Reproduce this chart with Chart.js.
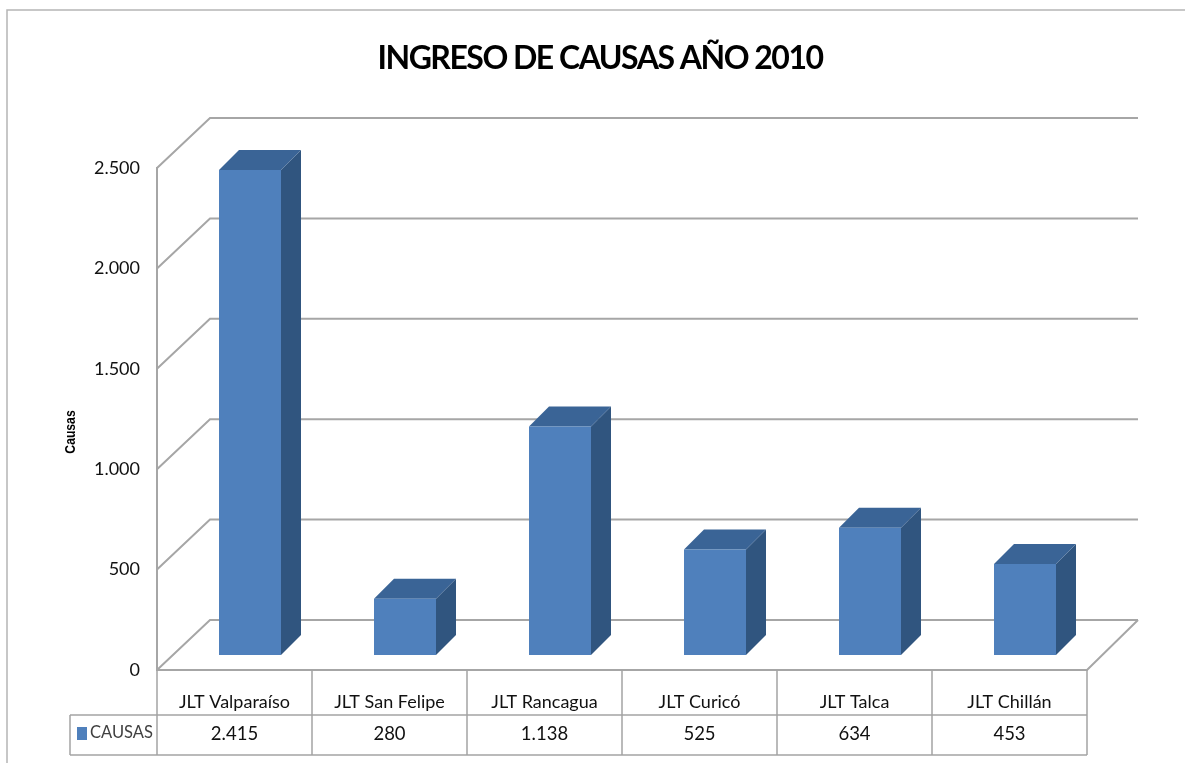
<!DOCTYPE html>
<html><head><meta charset="utf-8">
<style>html,body{margin:0;padding:0;background:#fff}#w{position:relative;width:1185px;height:763px;overflow:hidden}canvas{display:block}</style>
<script src="https://cdn.jsdelivr.net/npm/chart.js@4"></script>
</head><body><div id="w"><canvas id="c" width="1185" height="763"></canvas></div>
<script>
const categories = ['JLT Valparaíso','JLT San Felipe','JLT Rancagua','JLT Curicó','JLT Talca','JLT Chillán'];
const causas = [2415,280,1138,525,634,453];
const seriesName = 'CAUSAS';
const chartTitle = 'INGRESO DE CAUSAS AÑO 2010';
const yAxisTitle = 'Causas';

const FONT = 'Lato,"Liberation Sans",sans-serif';
const fmt = v => String(v).replace(/\B(?=(\d{3})+$)/g,'.');
const GRID = '#a6a6a6', TBL = '#a3a3a3', TXT = '#111111';
const FRONT = '#4f80bc', TOP = '#3a6496', SIDE = '#30557f';
const DEPTH = {x:53,y:50}, BAR = {dx:15.5,dy:-15,sx:20,sy:-20};

function line(ctx,pts,color,w){ctx.beginPath();pts.forEach((p,i)=>i?ctx.lineTo(p[0],p[1]):ctx.moveTo(p[0],p[1]));ctx.strokeStyle=color;ctx.lineWidth=w;ctx.stroke();}
function poly(ctx,pts,color){ctx.beginPath();pts.forEach((p,i)=>i?ctx.lineTo(p[0],p[1]):ctx.moveTo(p[0],p[1]));ctx.closePath();ctx.fillStyle=color;ctx.fill();}

const scene = {
  id:'scene',
  beforeDraw(chart){
    const {ctx,width,height}=chart;
    line(ctx,[[7,height],[7,10],[width,10]],'#b5b5b5',1.5);
    const tb=chart.titleBlock;
    if(tb && !tb._condensed){
      const orig=tb.draw;
      tb.draw=function(){ctx.save();ctx.letterSpacing='-1.5px';orig.call(this);ctx.restore();};
      tb._condensed=true;
    }
  },
  beforeDatasetsDraw(chart){
    const {ctx,chartArea:a,scales:{y}}=chart;
    y.ticks.forEach(t=>{
      const py=y.getPixelForValue(t.value);
      line(ctx,[[a.left,py],[a.left+DEPTH.x,py-DEPTH.y],[a.right+DEPTH.x-2,py-DEPTH.y]],GRID,2);
    });
    const y0=y.getPixelForValue(0);
    line(ctx,[[a.left,y0],[a.right,y0],[a.right+DEPTH.x-2,y0-DEPTH.y]],GRID,2);
    ctx.save();
    ctx.translate(BAR.dx,BAR.dy);
    chart.getDatasetMeta(0).data.forEach(b=>{
      const l=b.x-b.width/2,r=b.x+b.width/2,t=b.y,bt=b.base;
      poly(ctx,[[r,t],[r+BAR.sx,t+BAR.sy],[r+BAR.sx,bt+BAR.sy],[r,bt]],SIDE);
      poly(ctx,[[l,t],[l+BAR.sx,t+BAR.sy],[r+BAR.sx,t+BAR.sy],[r,t]],TOP);
    });
  },
  afterDatasetsDraw(chart){ chart.ctx.restore(); },
  afterDraw(chart){
    const {ctx,chartArea:a,scales:{x}}=chart;
    const rowTop=a.bottom,rowMid=715,rowBot=755,legL=70;
    const step=x.getPixelForValue(1)-x.getPixelForValue(0);
    const edges=categories.map((_,i)=>x.getPixelForValue(i)-step/2).concat([a.right]);
    edges.forEach(e=>line(ctx,[[e,rowTop],[e,rowBot]],TBL,1.5));
    line(ctx,[[legL,rowMid],[a.right,rowMid]],TBL,1.5);
    line(ctx,[[legL,rowBot],[a.right,rowBot]],TBL,1.5);
    line(ctx,[[legL,rowMid],[legL,rowBot]],TBL,1.5);
    ctx.fillStyle=FRONT;ctx.fillRect(77,727,10,13);
    ctx.textBaseline='middle';
    ctx.fillStyle='#404040';ctx.textAlign='left';ctx.font='16.5px '+FONT;
    ctx.fillText(seriesName,90,733);
    ctx.fillStyle=TXT;ctx.textAlign='center';ctx.font='18.5px '+FONT;
    causas.forEach((v,i)=>ctx.fillText(fmt(v),x.getPixelForValue(i),734));
    ctx.save();ctx.translate(71,432);ctx.rotate(-Math.PI/2);ctx.scale(0.87,1);
    ctx.fillStyle='#000';ctx.font='bold 14px "Liberation Sans",sans-serif';
    ctx.fillText(yAxisTitle,0,0);ctx.restore();
  }
};

new Chart(document.getElementById('c'),{
  type:'bar',
  data:{labels:categories,datasets:[{label:seriesName,data:causas,backgroundColor:FRONT,borderWidth:0,categoryPercentage:1,barPercentage:0.4,clip:false}]},
  plugins:[scene],
  options:{
    responsive:false,animation:false,
    layout:{padding:{left:15,right:0,top:0,bottom:0}},
    plugins:{
      legend:{display:false},tooltip:{enabled:false},
      title:{display:true,text:chartTitle,color:'#000',font:{family:FONT,size:32,weight:'bold',lineHeight:1.2},padding:{top:39,bottom:90.6}}
    },
    scales:{
      x:{grid:{display:false},border:{display:false},
         ticks:{color:TXT,font:{family:FONT,size:18},padding:13,maxRotation:0,autoSkip:false},
         afterFit(s){s.height=93;}},
      y:{min:0,max:2500,grid:{display:false},border:{display:true,color:GRID,width:2},
         ticks:{stepSize:500,color:TXT,padding:9,font:{family:FONT,size:18},callback:v=>fmt(v)},
         afterFit(s){s.width=142;}},
      pad:{type:'linear',position:'right',display:true,grid:{display:false},border:{display:false},
         ticks:{display:false},afterFit(s){s.width=98;}}
    }
  }
});
</script></body></html>
